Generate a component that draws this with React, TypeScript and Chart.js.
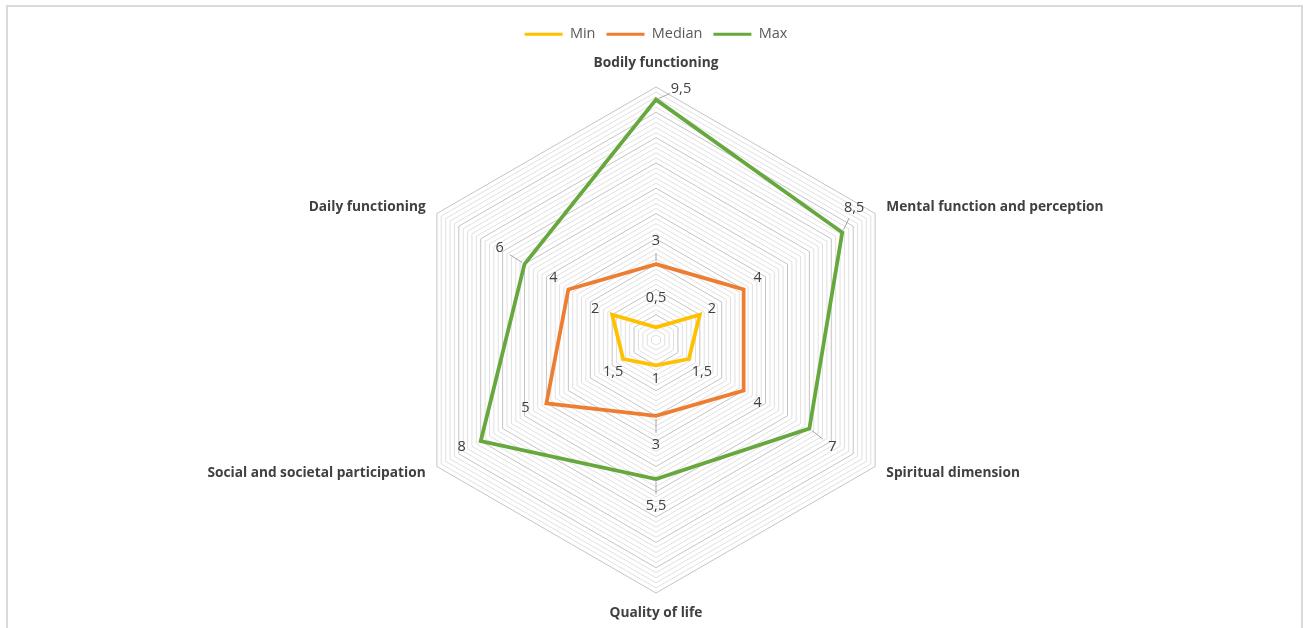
import { useEffect, useRef } from "react";
import { Chart, registerables } from "chart.js";

Chart.register(...registerables);

// ---- data ----
const categories = [
  "Bodily functioning",
  "Mental function and perception",
  "Spiritual dimension",
  "Quality of life",
  "Social and societal participation",
  "Daily functioning",
];
const seriesNames = ["Min", "Median", "Max"];
const minValues = [0.5, 2, 1.5, 1, 1.5, 2];
const medianValues = [3, 4, 4, 3, 5, 4];
const maxValues = [9.5, 8.5, 7, 5.5, 8, 6];
const scaleMin = 0;
const scaleMax = 10;
const minorStep = 0.2;

// ---- styles / layout ----
const seriesColors = ["#FFC000", "#ED7D31", "#66A83E"];
const FONT = '"Open Sans", "Liberation Sans", sans-serif';
const CANVAS_W = 1304;
const CANVAS_H = 680;
// distance beyond outer ring for category labels
const pointLabelPads = [24, 13, 13, 20, 13, 13];
// data label offsets relative to each point (px)
const labelOffsets: number[][][] = [
  [[0, -29], [12, -6], [13, 13], [0, 14], [-10, 13], [-17, -6]],
  [[0, -23], [14, -12], [14, 12], [0, 29], [-21, 5], [-15, -12]],
  [[25, -11], [12, -25], [23, 18], [0, 27], [-19, 6], [-25, -16]],
];
const leaderLines: number[][] = [
  [1, 0], [1, 3], [2, 0], [2, 1], [2, 2], [2, 3], [2, 5],
];

const fmt = (v: number) => String(v).replace(".", ",");

const labelPlugin = {
  id: "customLabels",
  afterDatasetsDraw(chart: any) {
    const ctx = chart.ctx as CanvasRenderingContext2D;
    const scale = chart.scales.r;
    ctx.save();
    // category labels
    ctx.font = `bold 13.7px ${FONT}`;
    ctx.fillStyle = "#404040";
    ctx.textBaseline = "middle";
    categories.forEach((c, i) => {
      const p = scale.getPointPosition(i, scale.drawingArea + pointLabelPads[i]);
      ctx.textAlign =
        Math.abs(p.x - scale.xCenter) < 1 ? "center" : p.x > scale.xCenter ? "left" : "right";
      ctx.fillText(c, p.x, p.y);
    });
    // leader lines
    ctx.strokeStyle = "#a6a6a6";
    ctx.lineWidth = 1;
    leaderLines.forEach(([di, i]) => {
      const el = chart.getDatasetMeta(di).data[i];
      const [dx, dy] = labelOffsets[di][i];
      const len = Math.hypot(dx, dy);
      const ux = dx / len;
      const uy = dy / len;
      ctx.beginPath();
      ctx.moveTo(el.x + ux * 3, el.y + uy * 3);
      ctx.lineTo(el.x + dx - ux * 12, el.y + dy - uy * 12);
      ctx.stroke();
    });
    // data labels
    ctx.font = `14.5px ${FONT}`;
    ctx.fillStyle = "#404040";
    ctx.textAlign = "center";
    chart.data.datasets.forEach((ds: any, di: number) => {
      const meta = chart.getDatasetMeta(di);
      meta.data.forEach((el: any, i: number) => {
        const [dx, dy] = labelOffsets[di][i];
        ctx.fillText(fmt(ds.data[i]), el.x + dx, el.y + dy);
      });
    });
    ctx.restore();
  },
};

export default function App() {
  const ref = useRef<HTMLCanvasElement>(null);
  useEffect(() => {
    if (!ref.current) return;
    const allValues = [minValues, medianValues, maxValues];
    const chart = new Chart(ref.current, {
      type: "radar",
      data: {
        labels: categories,
        datasets: seriesNames.map((name, k) => ({
          label: name,
          data: allValues[k],
          borderColor: seriesColors[k],
          backgroundColor: seriesColors[k],
          borderWidth: 3.75,
          fill: false,
          pointRadius: 0,
          pointHoverRadius: 0,
          tension: 0,
          borderJoinStyle: "miter" as const,
        })),
      },
      options: {
        animation: false,
        responsive: false,
        devicePixelRatio: 1,
        layout: { padding: { top: 16, bottom: 50, left: 403, right: 395 } },
        plugins: {
          legend: {
            position: "top",
            labels: {
              boxWidth: 38,
              boxHeight: 3,
              padding: 11,
              color: "#595959",
              font: { size: 14.5, family: FONT },
              generateLabels: (c: any) =>
                Chart.defaults.plugins.legend.labels
                  .generateLabels(c)
                  .map((l: any) => ({ ...l, lineWidth: 0 })),
            },
          },
          tooltip: { enabled: false },
        },
        scales: {
          r: {
            min: scaleMin,
            max: scaleMax,
            ticks: { display: false, stepSize: minorStep },
            angleLines: { display: false },
            pointLabels: { display: false },
            grid: {
              lineWidth: 1,
              color: (ctx: any) => {
                const v = ctx.tick ? ctx.tick.value : 0;
                return Math.abs(v - Math.round(v)) < 1e-6 ? "#c4c4c4" : "#e0e0e0";
              },
            },
          },
        },
      },
      plugins: [labelPlugin],
    });
    return () => chart.destroy();
  }, []);

  return (
    <div
      style={{
        position: "fixed",
        left: 0,
        top: 0,
        width: 1304,
        height: 628,
        overflow: "hidden",
        background: "#fff",
      }}
    >
      <div
        style={{
          position: "absolute",
          left: 6,
          top: 5,
          width: 1297,
          height: 700,
          border: "2px solid #d9d9d9",
          boxSizing: "border-box",
        }}
      />
      <canvas
        ref={ref}
        width={CANVAS_W}
        height={CANVAS_H}
        style={{ position: "absolute", left: 0, top: 0, width: CANVAS_W, height: CANVAS_H }}
      />
    </div>
  );
}
